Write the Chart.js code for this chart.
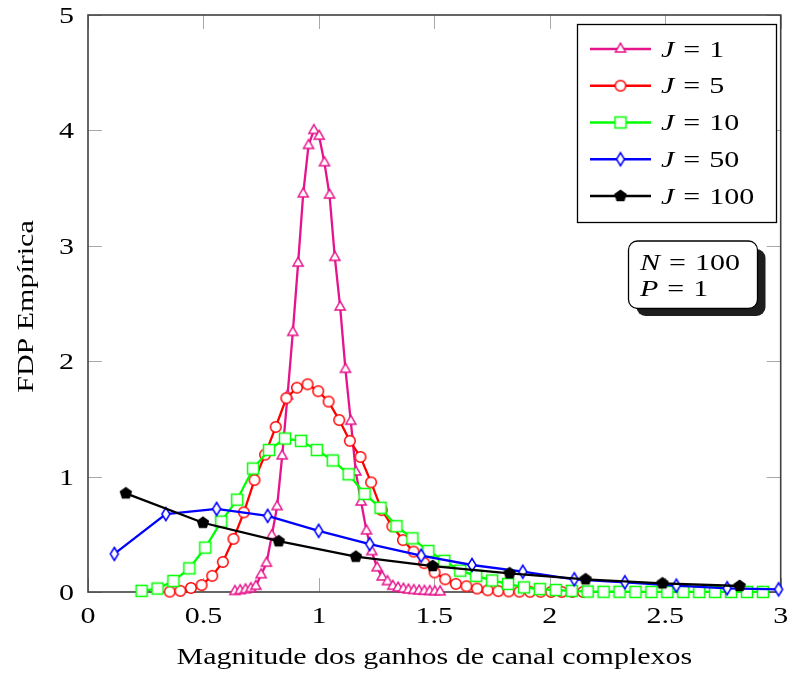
<!DOCTYPE html>
<html>
<head>
<meta charset="utf-8">
<script src="https://cdn.jsdelivr.net/npm/chart.js@4.4.0/dist/chart.umd.min.js"></script>
<style>
  body { margin: 0; background: #fff; }
  #wrap { width: 789px; height: 673px; }
</style>
</head>
<body>
<div id="wrap"><canvas id="chart" width="789" height="673"></canvas></div>
<script>
// === DATA ===
const j1X = [0.636, 0.659, 0.682, 0.705, 0.727, 0.750, 0.773, 0.796, 0.819, 0.841,
             0.864, 0.887, 0.910, 0.932, 0.955, 0.978, 1.001, 1.024, 1.046, 1.069,
             1.092, 1.115, 1.138, 1.160, 1.183, 1.206, 1.229, 1.252, 1.274, 1.297,
             1.320, 1.343, 1.366, 1.388, 1.411, 1.434, 1.457, 1.480, 1.502, 1.525];
const j1Y = [0.005, 0.012, 0.02, 0.03, 0.05, 0.15, 0.25, 0.49, 0.74, 1.18,
             1.70, 2.25, 2.85, 3.45, 3.87, 4.00, 3.95, 3.72, 3.44, 2.90,
             2.47, 1.93, 1.48, 1.04, 0.78, 0.53, 0.35, 0.21, 0.13, 0.09,
             0.05, 0.035, 0.025, 0.018, 0.013, 0.01, 0.007, 0.005, 0.003, 0.002];

const j5X = [0.354, 0.400, 0.446, 0.492, 0.538, 0.584, 0.630, 0.675, 0.721, 0.767,
             0.813, 0.859, 0.905, 0.951, 0.997, 1.042, 1.088, 1.134, 1.180, 1.226,
             1.272, 1.318, 1.364, 1.410, 1.456, 1.501, 1.547, 1.593, 1.639, 1.685,
             1.731, 1.777, 1.822, 1.868, 1.914, 1.960, 2.006, 2.052, 2.098, 2.144];
const j5Y = [0.003, 0.01, 0.035, 0.06, 0.14, 0.26, 0.46, 0.69, 0.97, 1.19,
             1.43, 1.68, 1.77, 1.80, 1.74, 1.65, 1.49, 1.31, 1.17, 0.95,
             0.71, 0.57, 0.45, 0.35, 0.25, 0.17, 0.11, 0.07, 0.05, 0.03,
             0.015, 0.008, 0.005, 0.003, 0.002, 0.002, 0.001, 0.001, 0.001, 0.001];

const j10X = [0.232, 0.301, 0.370, 0.439, 0.508, 0.577, 0.646, 0.715, 0.784, 0.853,
              0.922, 0.991, 1.060, 1.129, 1.198, 1.267, 1.336, 1.405, 1.474, 1.543,
              1.612, 1.681, 1.750, 1.819, 1.888, 1.957, 2.026, 2.095, 2.164, 2.233,
              2.302, 2.371, 2.440, 2.509, 2.578, 2.647, 2.716, 2.785, 2.854, 2.923];
const j10Y = [0.01, 0.03, 0.095, 0.205, 0.385, 0.61, 0.80, 1.07, 1.23, 1.33,
              1.31, 1.23, 1.14, 1.02, 0.85, 0.73, 0.57, 0.465, 0.355, 0.27,
              0.185, 0.14, 0.10, 0.07, 0.04, 0.025, 0.017, 0.01, 0.004, 0.002,
              0.002, 0.001, 0.001, 0.001, 0.001, 0.001, 0.001, 0.001, 0.001, 0.001];

const j50X = [0.114, 0.337, 0.557, 0.778, 0.999, 1.220, 1.443, 1.663, 1.883, 2.106,
              2.325, 2.548, 2.768, 2.991];
const j50Y = [0.33, 0.675, 0.72, 0.66, 0.53, 0.415, 0.315, 0.234, 0.176, 0.11,
              0.084, 0.055, 0.032, 0.023];

const j100X = [0.164, 0.498, 0.826, 1.160, 1.493, 1.826, 2.155, 2.488, 2.822];
const j100Y = [0.855, 0.60, 0.44, 0.306, 0.225, 0.162, 0.11, 0.075, 0.052];

const seriesJ = ['1', '5', '10', '50', '100'];
const xTicks = [0, 0.5, 1, 1.5, 2, 2.5, 3];
const xTickLabels = ['0', '0.5', '1', '1.5', '2', '2.5', '3'];
const yTicks = [0, 1, 2, 3, 4, 5];
const yTickLabels = ['0', '1', '2', '3', '4', '5'];
const xTitle = 'Magnitude dos ganhos de canal complexos';
const yTitle = 'FDP Empírica';
const boxN = '100';
const boxP = '1';

// === TEXT (serif, stretched a bit to get the TeX width) ===
const FONT = '"Liberation Serif", "Times New Roman", serif';
const FS = 24;
const SX = 1.25;

function partWidth(ctx, p) {
    ctx.font = (p.it ? 'italic ' : '') + FS + 'px ' + FONT;
    return ((p.g || 0) * FS + ctx.measureText(p.t).width) * SX;
}
function drawParts(ctx, parts, x, y, align) {
    let total = 0;
    parts.forEach(p => total += partWidth(ctx, p));
    let cx = align === 'center' ? x - total / 2 : align === 'right' ? x - total : x;
    ctx.fillStyle = '#000';
    ctx.textBaseline = 'alphabetic';
    ctx.textAlign = 'left';
    parts.forEach(p => {
        const w = partWidth(ctx, p);
        cx += (p.g || 0) * FS * SX;
        ctx.save();
        ctx.translate(cx, y);
        ctx.scale(SX, 1);
        ctx.fillText(p.t, 0, 0);
        ctx.restore();
        cx = cx - (p.g || 0) * FS * SX + w;
    });
}
function mathEq(v, val) {
    return [{ t: v, it: true }, { t: '=', g: 0.3 }, { t: val, g: 0.3 }];
}

// === MARKERS ===
function markerCanvas(draw) {
    const c = document.createElement('canvas');
    c.width = 18; c.height = 18;
    const g = c.getContext('2d');
    g.lineWidth = 1.5;
    g.lineJoin = 'miter';
    draw(g, 9, 9);
    return c;
}
const PINK = '#e6148c', RED = '#ff0000', GREEN = '#00ff00', BLUE = '#0000ff', BLACK = '#000000';
const triMark = markerCanvas((g, cx, cy) => {
    const r = 5.8;
    g.beginPath();
    for (let k = 0; k < 3; k++) {
        const a = -Math.PI / 2 + k * 2 * Math.PI / 3;
        g.lineTo(cx + r * Math.cos(a), cy + r * Math.sin(a));
    }
    g.closePath();
    g.fillStyle = '#fff'; g.fill();
    g.strokeStyle = PINK; g.stroke();
});
const circMark = markerCanvas((g, cx, cy) => {
    g.beginPath(); g.arc(cx, cy, 5.3, 0, 2 * Math.PI);
    g.fillStyle = '#fff'; g.fill();
    g.strokeStyle = RED; g.stroke();
});
const sqMark = markerCanvas((g, cx, cy) => {
    g.beginPath(); g.rect(cx - 5.5, cy - 5.5, 11, 11);
    g.fillStyle = '#fff'; g.fill();
    g.strokeStyle = GREEN; g.stroke();
});
const diaMark = markerCanvas((g, cx, cy) => {
    g.beginPath();
    g.moveTo(cx, cy - 6.5); g.lineTo(cx + 4, cy); g.lineTo(cx, cy + 6.5); g.lineTo(cx - 4, cy);
    g.closePath();
    g.fillStyle = '#fff'; g.fill();
    g.strokeStyle = BLUE; g.stroke();
});
const pentMark = markerCanvas((g, cx, cy) => {
    const r = 6.6;
    g.beginPath();
    for (let k = 0; k < 5; k++) {
        const a = -Math.PI / 2 + k * 2 * Math.PI / 5;
        g.lineTo(cx + r * Math.cos(a), cy + r * Math.sin(a));
    }
    g.closePath();
    g.fillStyle = BLACK; g.fill();
});

function pts(xs, ys) { return xs.map((x, i) => ({ x: x, y: ys[i] })); }

const series = [
    { x: j1X, y: j1Y, color: PINK, mark: triMark },
    { x: j5X, y: j5Y, color: RED, mark: circMark },
    { x: j10X, y: j10Y, color: GREEN, mark: sqMark },
    { x: j50X, y: j50Y, color: BLUE, mark: diaMark },
    { x: j100X, y: j100Y, color: BLACK, mark: pentMark }
];

// === FRAME, TICKS, LEGEND, BOX ===
const decor = {
    id: 'decor',
    beforeDatasetsDraw(chart) {
        const ctx = chart.ctx;
        const a = chart.chartArea;
        const xs = chart.scales.x, ys = chart.scales.y;
        ctx.save();
        // inward ticks on all four sides
        ctx.strokeStyle = '#a8a8a8';
        ctx.lineWidth = 1;
        const TL = 14;
        xTicks.forEach(v => {
            const px = Math.round(xs.getPixelForValue(v)) + 0.5;
            ctx.beginPath();
            ctx.moveTo(px, a.bottom); ctx.lineTo(px, a.bottom - TL);
            ctx.moveTo(px, a.top); ctx.lineTo(px, a.top + TL);
            ctx.stroke();
        });
        yTicks.forEach(v => {
            const py = Math.round(ys.getPixelForValue(v)) + 0.5;
            ctx.beginPath();
            ctx.moveTo(a.left, py); ctx.lineTo(a.left + TL, py);
            ctx.moveTo(a.right, py); ctx.lineTo(a.right - TL, py);
            ctx.stroke();
        });
        // frame
        ctx.strokeStyle = '#404040';
        ctx.lineWidth = 1.6;
        ctx.strokeRect(a.left, a.top, a.right - a.left, a.bottom - a.top);
        // tick labels
        xTicks.forEach((v, i) => {
            drawParts(ctx, [{ t: xTickLabels[i] }], xs.getPixelForValue(v), a.bottom + 31, 'center');
        });
        yTicks.forEach((v, i) => {
            drawParts(ctx, [{ t: yTickLabels[i] }], a.left - 14, ys.getPixelForValue(v) + 8, 'right');
        });
        // axis titles
        drawParts(ctx, [{ t: xTitle }], (a.left + a.right) / 2, 664, 'center');
        ctx.save();
        ctx.translate(33, (a.top + a.bottom) / 2 + 3);
        ctx.rotate(-Math.PI / 2);
        drawParts(ctx, [{ t: yTitle }], 0, 0, 'center');
        ctx.restore();
        ctx.restore();
    },
    afterDatasetsDraw(chart) {
        const ctx = chart.ctx;
        ctx.save();
        // legend
        ctx.fillStyle = '#fff';
        ctx.fillRect(577.5, 24.5, 199, 198);
        ctx.strokeStyle = '#000';
        ctx.lineWidth = 1.3;
        ctx.strokeRect(577.5, 24.5, 199, 198);
        series.forEach((s, i) => {
            const cy = 49 + i * 36.75;
            ctx.strokeStyle = s.color;
            ctx.lineWidth = 2.3;
            ctx.beginPath();
            ctx.moveTo(590, cy); ctx.lineTo(651, cy);
            ctx.stroke();
            ctx.drawImage(s.mark, 620.5 - s.mark.width / 2, cy - s.mark.height / 2);
            drawParts(ctx, mathEq('J', seriesJ[i]), 661, cy + 7.7, 'left');
        });
        // N / P box with shadow
        ctx.fillStyle = '#1e1e1e';
        ctx.beginPath();
        ctx.roundRect(636.5, 249, 129, 67, 9);
        ctx.fill();
        ctx.fillStyle = '#fff';
        ctx.strokeStyle = '#000';
        ctx.lineWidth = 1.3;
        ctx.beginPath();
        ctx.roundRect(628.5, 241, 129, 67.5, 9);
        ctx.fill();
        ctx.stroke();
        drawParts(ctx, mathEq('N', boxN), 640, 269.5, 'left');
        drawParts(ctx, mathEq('P', boxP), 640, 296, 'left');
        ctx.restore();
    }
};

new Chart(document.getElementById('chart'), {
    type: 'line',
    data: {
        datasets: series.map((s, i) => ({
            label: 'J = ' + seriesJ[i],
            data: pts(s.x, s.y),
            borderColor: s.color,
            backgroundColor: s.color,
            borderWidth: 2.3,
            fill: false,
            tension: 0,
            pointStyle: s.mark,
            pointRadius: 6,
            pointHoverRadius: 6,
            clip: false,
            order: series.length - i
        }))
    },
    options: {
        responsive: false,
        animation: false,
        events: [],
        layout: { padding: { top: 15, right: 6, left: 0, bottom: 0 } },
        plugins: { legend: { display: false }, tooltip: { enabled: false } },
        scales: {
            x: {
                type: 'linear', min: 0, max: 3,
                grid: { display: false }, border: { display: false },
                ticks: { display: false },
                afterFit(scale) { scale.height = 81; }
            },
            y: {
                type: 'linear', min: 0, max: 5,
                grid: { display: false }, border: { display: false },
                ticks: { display: false },
                afterFit(scale) { scale.width = 88; }
            }
        }
    },
    plugins: [decor]
});
</script>
</body>
</html>
